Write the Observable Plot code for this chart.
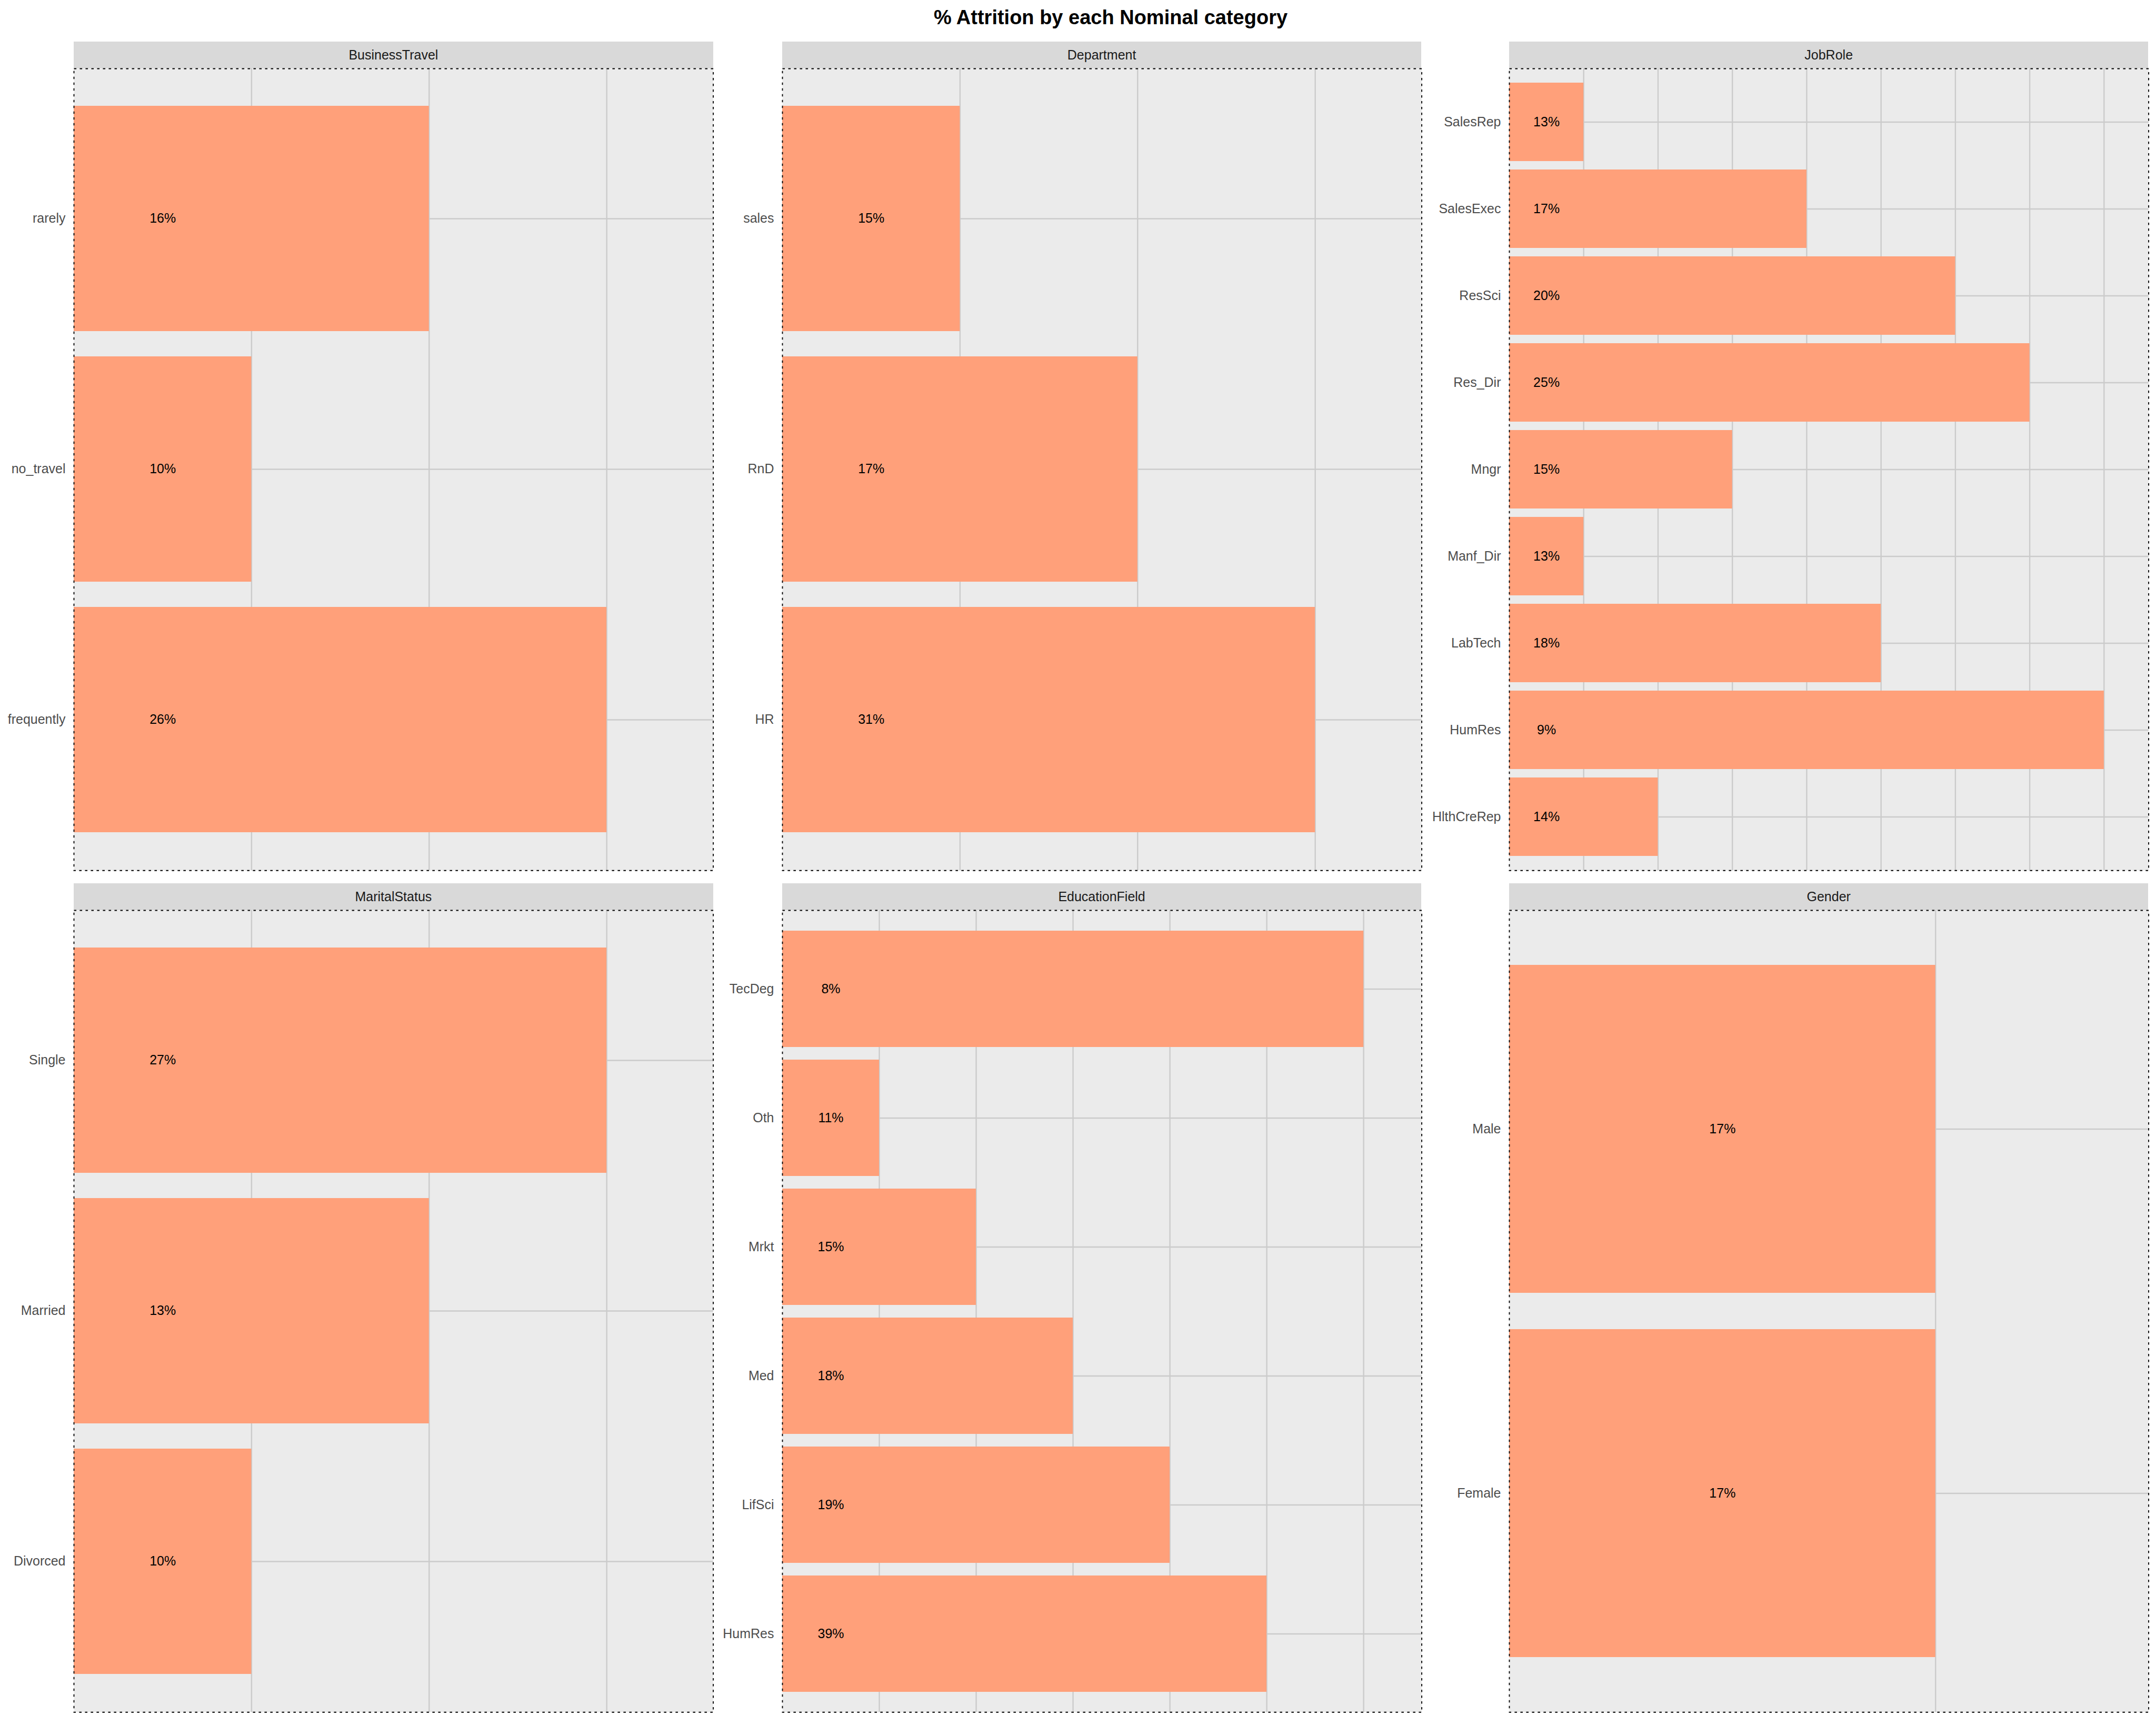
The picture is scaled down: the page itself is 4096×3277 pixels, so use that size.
<!DOCTYPE html>
<html>
<head>
<meta charset="utf-8">
<script src="https://cdn.jsdelivr.net/npm/d3@7"></script>
<script src="https://cdn.jsdelivr.net/npm/@observablehq/plot@0.6"></script>
<style>
  html, body { margin: 0; padding: 0; background: #ffffff; overflow: hidden; }
  #root { position: relative; width: 4096px; height: 3277px; background: #ffffff;
          font-family: "Liberation Sans", Arial, Helvetica, sans-serif; }
  .title { position: absolute; left: 110px; width: 4000px; top: 14px; text-align: center;
           font-size: 38px; line-height: 38px; font-weight: bold; color: #000; }
  .strip { position: absolute; background: #D9D9D9; color: #1A1A1A; font-size: 25px;
           display: flex; align-items: center; justify-content: center; }
  .panel { position: absolute; }
</style>
</head>
<body>
<div id="root">
  <div class="title">% Attrition by each Nominal category</div>
</div>
<script>
// ---- data (categories listed top to bottom) ----
const panelNames = ["BusinessTravel", "Department", "JobRole", "MaritalStatus", "EducationField", "Gender"];

const businessTravelCats   = ["rarely", "no_travel", "frequently"];
const businessTravelLabels = ["16%", "10%", "26%"];
const businessTravelLen    = [2, 1, 3];

const departmentCats   = ["sales", "RnD", "HR"];
const departmentLabels = ["15%", "17%", "31%"];
const departmentLen    = [1, 2, 3];

const jobRoleCats   = ["SalesRep", "SalesExec", "ResSci", "Res_Dir", "Mngr", "Manf_Dir", "LabTech", "HumRes", "HlthCreRep"];
const jobRoleLabels = ["13%", "17%", "20%", "25%", "15%", "13%", "18%", "9%", "14%"];
const jobRoleLen    = [1, 4, 6, 7, 3, 1, 5, 8, 2];

const maritalCats   = ["Single", "Married", "Divorced"];
const maritalLabels = ["27%", "13%", "10%"];
const maritalLen    = [3, 2, 1];

const educationCats   = ["TecDeg", "Oth", "Mrkt", "Med", "LifSci", "HumRes"];
const educationLabels = ["8%", "11%", "15%", "18%", "19%", "39%"];
const educationLen    = [6, 1, 2, 3, 4, 5];

const genderCats   = ["Male", "Female"];
const genderLabels = ["17%", "17%"];
const genderLen    = [1, 1];

// upper end of each panel's x range
const xUpper = [3.6, 3.6, 8.6, 3.6, 6.6, 1.5];

const panelData = [
  [businessTravelCats, businessTravelLabels, businessTravelLen],
  [departmentCats, departmentLabels, departmentLen],
  [jobRoleCats, jobRoleLabels, jobRoleLen],
  [maritalCats, maritalLabels, maritalLen],
  [educationCats, educationLabels, educationLen],
  [genderCats, genderLabels, genderLen]
];

// ---- layout ----
const colLeft = [140.1, 1485.8, 2866.9];
const rowStripTop = [79.1, 1678.0];
const rowPanelTop = [130.4, 1728.6];
const PW = 1214.6, PH = 1523.3;
const ML = 240;
const FONT = '"Liberation Sans", Arial, Helvetica, sans-serif';

const root = document.getElementById("root");

panelNames.forEach((name, i) => {
  const col = i % 3, row = Math.floor(i / 3);
  const [cats, labels, lens] = panelData[i];
  const data = cats.map((c, k) => ({cat: c, label: labels[k], len: lens[k]}));
  const nLevels = d3.max(lens);
  const gridTicks = d3.range(1, nLevels + 1);

  const strip = document.createElement("div");
  strip.className = "strip";
  strip.style.left = colLeft[col] + "px";
  strip.style.top = rowStripTop[row] + "px";
  strip.style.width = PW + "px";
  strip.style.height = (rowPanelTop[row] - rowStripTop[row]) + "px";
  strip.textContent = name;
  root.appendChild(strip);

  const chart = Plot.plot({
    width: ML + PW,
    height: PH,
    marginLeft: ML, marginRight: 0, marginTop: 0, marginBottom: 0,
    style: {fontFamily: FONT, background: "transparent", overflow: "visible"},
    x: {domain: [0, xUpper[i]], axis: null, label: null},
    y: {domain: cats, paddingInner: 0.1, paddingOuter: 0.15, align: 0.5, axis: null, label: null},
    marks: [
      Plot.frame({fill: "#EBEBEB"}),
      Plot.gridX(gridTicks, {stroke: "#CBCBCB", strokeOpacity: 1, strokeWidth: 2.4}),
      Plot.gridY({stroke: "#CBCBCB", strokeOpacity: 1, strokeWidth: 2.4}),
      Plot.barX(data, {x: "len", y: "cat", fill: "#FFA07A"}),
      Plot.text(data, {x: () => 0.5, y: "cat", text: "label", fontSize: 25, fill: "#000000"}),
      Plot.axisY({tickSize: 0, tickPadding: 16, fontSize: 25, fill: "#4D4D4D", label: null}),
      Plot.frame({stroke: "#000000", strokeWidth: 1.9, strokeDasharray: "4.6,6.4"})
    ]
  });
  chart.classList.add("panel");
  chart.style.left = (colLeft[col] - ML) + "px";
  chart.style.top = rowPanelTop[row] + "px";
  root.appendChild(chart);
});
</script>
</body>
</html>
